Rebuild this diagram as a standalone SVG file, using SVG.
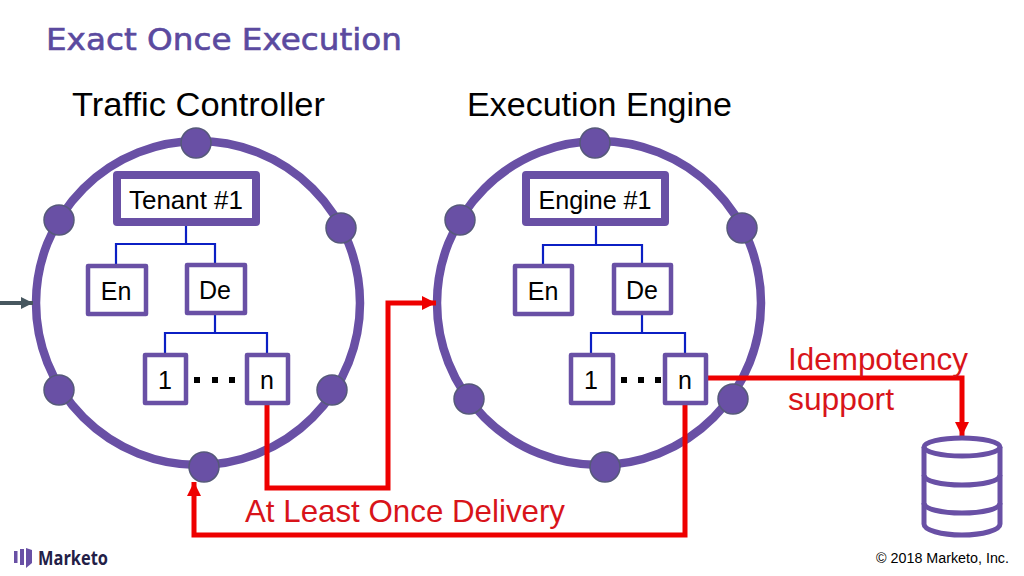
<svg xmlns="http://www.w3.org/2000/svg" width="1024" height="576" viewBox="0 0 1024 576">
<style>
text{font-family:"Liberation Sans",Arial,sans-serif;fill:#000}
.ring{fill:none;stroke:#6950a5;stroke-width:8.500}
.dot{fill:#6950a5;stroke:#56597a;stroke-width:1.500}
.box{fill:#fff;stroke:#6950a5;stroke-width:4.500;stroke-linejoin:round}
.big{fill:#fff;stroke:#6950a5;stroke-width:8;stroke-linejoin:round}
.lb{font-size:25px;text-anchor:middle}
.tb{font-size:26px;text-anchor:middle}
.blue{fill:none;stroke:#0b1fc4;stroke-width:2.200}
.red{fill:none;stroke:#ee0000;stroke-width:5}
.dots{fill:#000}
.head{font-size:33.500px}
.rt{font-size:31.500px;fill:#d8141a}
.db{fill:none;stroke:#6950a5;stroke-width:5}
</style>
<defs>
<marker id="ar" markerUnits="userSpaceOnUse" markerWidth="14" markerHeight="16" refX="14" refY="8" orient="auto"><path d="M0 1L14 8L0 15Z" fill="#ee0000"/></marker>
<marker id="ag" markerUnits="userSpaceOnUse" markerWidth="12" markerHeight="14" refX="12" refY="7" orient="auto"><path d="M0 1L12 7L0 13Z" fill="#47575f"/></marker>
</defs>
<rect width="1024" height="576" fill="#fff"/>
<text id="title" x="46" y="50" font-size="30" textLength="356" lengthAdjust="spacingAndGlyphs" style="font-family:'DejaVu Sans',sans-serif;fill:#5b4a9f;stroke:#5b4a9f;stroke-width:0.600">Exact Once Execution</text>
<text class="head" x="72" y="116" textLength="253" lengthAdjust="spacingAndGlyphs">Traffic Controller</text>
<text class="head" x="467" y="116" textLength="265" lengthAdjust="spacingAndGlyphs">Execution Engine</text>

<g id="ring-left">
<circle class="ring" cx="198" cy="303" r="162"/>
<circle class="dot" cx="196" cy="143" r="15"/><circle class="dot" cx="59" cy="220" r="15"/><circle class="dot" cx="341" cy="228" r="15"/><circle class="dot" cx="59" cy="390" r="15"/><circle class="dot" cx="332" cy="390" r="15"/><circle class="dot" cx="204" cy="467" r="15"/>
</g>
<g id="ring-right">
<circle class="ring" cx="599" cy="303" r="162"/>
<circle class="dot" cx="595" cy="143" r="15"/><circle class="dot" cx="460" cy="220" r="15"/><circle class="dot" cx="742" cy="228" r="15"/><circle class="dot" cx="469" cy="399" r="15"/><circle class="dot" cx="733" cy="399" r="15"/><circle class="dot" cx="605" cy="467" r="15"/>
</g>

<g id="connectors">
<path class="blue" d="M186 226V244M116 264V244H215V264M215 314V333M165 353V333H267V353"/>
<path class="blue" d="M596 226V245M543 264V245H642V264M642 314V333M591 353V333H685V353"/>
<path d="M0 303H33" fill="none" stroke="#47575f" stroke-width="4" marker-end="url(#ag)"/>
<path class="red" d="M267 404V488H388V303H436" marker-end="url(#ar)"/>
<path class="red" d="M685 404V535H194V482" marker-end="url(#ar)"/>
<path class="red" d="M707 378H962V436" marker-end="url(#ar)"/>
</g>

<g id="tenant"><rect class="big" x="117" y="175" width="139" height="47"/><text class="tb" x="186" y="209" textLength="114" lengthAdjust="spacingAndGlyphs">Tenant #1</text></g>
<g id="en-left"><rect class="box" x="88" y="266" width="58" height="48"/><text class="lb" x="116" y="300">En</text></g>
<g id="de-left"><rect class="box" x="187" y="265" width="58" height="48"/><text class="lb" x="215" y="299">De</text></g>
<g id="one-left"><rect class="box" x="145" y="355" width="41" height="48"/><text class="lb" x="165" y="389">1</text></g>
<g id="n-left"><rect class="box" x="247" y="355" width="41" height="48"/><text class="lb" x="267" y="389">n</text></g>
<g id="dots-left" class="dots"><rect x="194" y="377" width="6" height="6"/><rect x="212" y="377" width="6" height="6"/><rect x="229" y="377" width="6" height="6"/></g>

<g id="engine"><rect class="big" x="526" y="175" width="139" height="47"/><text class="tb" x="595" y="209" textLength="113" lengthAdjust="spacingAndGlyphs">Engine #1</text></g>
<g id="en-right"><rect class="box" x="515" y="266" width="57" height="48"/><text class="lb" x="543" y="300">En</text></g>
<g id="de-right"><rect class="box" x="614" y="265" width="57" height="48"/><text class="lb" x="642" y="299">De</text></g>
<g id="one-right"><rect class="box" x="571" y="355" width="42" height="48"/><text class="lb" x="591" y="389">1</text></g>
<g id="n-right"><rect class="box" x="665" y="355" width="41" height="48"/><text class="lb" x="685" y="389">n</text></g>
<g id="dots-right" class="dots"><rect x="621" y="377" width="6" height="6"/><rect x="638" y="377" width="6" height="6"/><rect x="655" y="377" width="6" height="6"/></g>

<g id="db">
<ellipse class="db" cx="962" cy="447" rx="38" ry="9"/>
<path class="db" d="M924 447V524C924 530 941 535 962 535S1000 530 1000 524V447"/>
<path class="db" d="M924 475C924 481 941 485 962 485S1000 481 1000 475M924 503C924 509 941 513 962 513S1000 509 1000 503"/>
</g>

<text class="rt" x="245" y="522" textLength="320" lengthAdjust="spacingAndGlyphs">At Least Once Delivery</text>
<text class="rt" x="788" y="370" textLength="180" lengthAdjust="spacingAndGlyphs">Idempotency</text>
<text class="rt" x="788" y="410" textLength="106" lengthAdjust="spacingAndGlyphs">support</text>

<g id="logo">
<rect x="14" y="551" width="3.500" height="12" fill="#6950a5"/><rect x="20" y="549" width="4" height="16" fill="#6950a5"/><path d="M26 548L32 550V563L26 568Z" fill="#6950a5"/>
<text x="38" y="565" font-size="19" textLength="70" lengthAdjust="spacingAndGlyphs" style="font-family:'Open Sans',sans-serif;font-weight:700;fill:#232047">Marketo</text>
</g>
<text x="876" y="563" font-size="14" textLength="133" lengthAdjust="spacingAndGlyphs">© 2018 Marketo, Inc.</text>
</svg>
